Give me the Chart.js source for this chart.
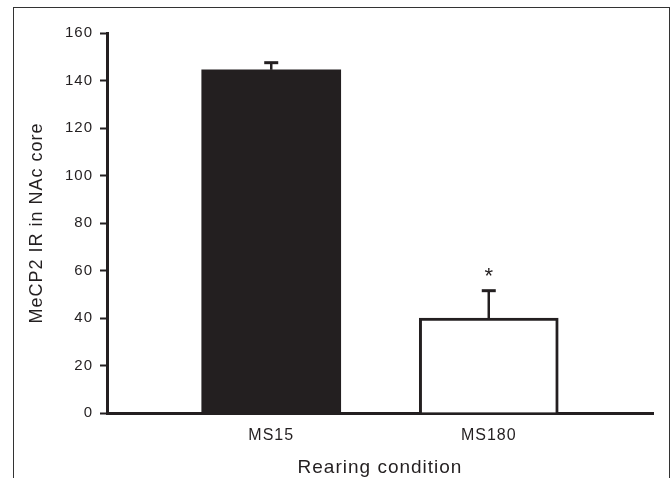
<!DOCTYPE html>
<html lang="en">
<head>
  <meta charset="UTF-8" />
  <title>MeCP2 IR in NAc core</title>
  <script src="https://cdn.jsdelivr.net/npm/chart.js"></script>
  <style>
    body {
      margin: 0;
      background: white;
    }
    .wrap {
      position: relative;
      width: 671px;
      height: 478px;
      overflow: hidden;
    }
    .frame {
      position: absolute;
      left: 13px;
      top: 7px;
      width: 657px;
      height: 490px;
      box-sizing: border-box;
      border: 1px solid #333;
      border-bottom: none;
      pointer-events: none;
    }
  </style>
</head>
<body>
  <div class="wrap">
    <canvas id="barChart" width="671" height="478"></canvas>
    <div class="frame"></div>
  </div>

  <script>
    const categories = ['MS15', 'MS180'];
    const means = [144.5, 40];
    const errors = [3, 11.5];
    const marks = ['', '*'];
    const yTicks = [0, 20, 40, 60, 80, 100, 120, 140, 160];

    const ink = '#231f20';
    const fontFamily = '"Liberation Sans", Arial, sans-serif';

    const positions = categories.map((c, i) => i + 1);

    // the original lettering is a bit wider than Arial
    const spacing = {
      id: 'spacing',
      beforeDraw(chart) { chart.ctx.letterSpacing = '1px'; }
    };

    // error bars (upward only) + significance marks
    const errorBars = {
      id: 'errorBars',
      afterDatasetsDraw(chart) {
        const ctx = chart.ctx, xs = chart.scales.x, ys = chart.scales.y;
        ctx.save();
        ctx.strokeStyle = ink;
        ctx.fillStyle = ink;
        positions.forEach((p, i) => {
          const x = xs.getPixelForValue(p);
          const yBase = ys.getPixelForValue(means[i]);
          const yTop = ys.getPixelForValue(means[i] + errors[i]);
          ctx.lineWidth = 2.5;
          ctx.beginPath();
          ctx.moveTo(x, yBase);
          ctx.lineTo(x, yTop);
          ctx.stroke();
          ctx.lineWidth = 3;
          ctx.beginPath();
          ctx.moveTo(x - 7, yTop);
          ctx.lineTo(x + 7, yTop);
          ctx.stroke();
          if (marks[i]) {
            ctx.letterSpacing = '0px';
            ctx.font = '22px ' + fontFamily;
            ctx.textAlign = 'center';
            ctx.textBaseline = 'middle';
            ctx.fillText(marks[i], x, yTop - 14);
          }
        });
        ctx.restore();
      }
    };

    new Chart(document.getElementById('barChart'), {
      type: 'bar',
      plugins: [spacing, errorBars],
      data: {
        datasets: [{
          data: positions.map((p, i) => ({ x: p, y: means[i] })),
          backgroundColor: [ink, '#ffffff'],
          borderColor: ink,
          borderWidth: [0, 3],
          borderSkipped: 'bottom',
          barThickness: 139
        }]
      },
      options: {
        responsive: false,
        animation: false,
        layout: { padding: { left: 0, right: 18, top: 33, bottom: 0 } },
        plugins: {
          legend: { display: false },
          tooltip: { enabled: false }
        },
        scales: {
          x: {
            type: 'linear',
            offset: false,
            min: 0.245,
            max: 2.755,
            afterBuildTicks: scale => { scale.ticks = positions.map(v => ({ value: v })); },
            afterFit: scale => { scale.height = 65; },
            grid: { display: false },
            border: { display: true, color: ink, width: 3 },
            ticks: {
              color: ink,
              padding: 5,
              font: { family: fontFamily, size: 16 },
              callback: v => categories[v - 1] || ''
            },
            title: {
              display: true,
              text: 'Rearing condition',
              color: ink,
              font: { family: fontFamily, size: 19, lineHeight: 1 },
              padding: { top: 0, bottom: 1 }
            }
          },
          y: {
            min: 0,
            max: 160,
            afterBuildTicks: scale => { scale.ticks = yTicks.map(v => ({ value: v })); },
            afterFit: scale => { scale.width = 107; },
            grid: {
              display: true,
              drawOnChartArea: false,
              drawTicks: true,
              tickLength: 7,
              tickWidth: 2,
              tickColor: ink
            },
            border: { display: true, color: ink, width: 3 },
            ticks: {
              color: ink,
              padding: 7,
              font: { family: fontFamily, size: 15 }
            },
            title: {
              display: true,
              text: 'MeCP2 IR in NAc core',
              color: ink,
              font: { family: fontFamily, size: 18, lineHeight: 1 },
              padding: { top: 28, bottom: 0 }
            }
          }
        }
      }
    });
  </script>
</body>
</html>
